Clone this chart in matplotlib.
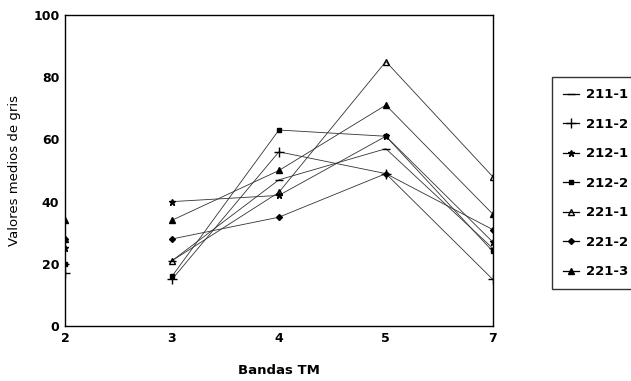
import numpy as np
import matplotlib
matplotlib.use('Agg')
import matplotlib.pyplot as plt

'''
Valores medios de gris por banda TM para cada clase
'''

bandas = ['2', '3', '4', '5', '7']
clases = ['211-1', '211-2', '212-1', '212-2', '221-1', '221-2', '221-3']

v_211_1 = [20, 21, 47, 57, 25]
v_211_2 = [17, 15, 56, 49, 15]
v_212_1 = [25, 40, 42, 61, 27]
v_212_2 = [20, 16, 63, 61, 24]
v_221_1 = [28, 21, 43, 85, 48]
v_221_2 = [28, 28, 35, 49, 31]
v_221_3 = [34, 34, 50, 71, 36]

valores = [v_211_1, v_211_2, v_212_1, v_212_2, v_221_1, v_221_2, v_221_3]
marcadores = ['_', '+', '*', 's', '^', 'D', '^']
tamanos = [6, 7, 5, 3.5, 4, 3, 4.5]
rellenos = ['k', 'k', 'k', 'k', 'none', 'k', 'k']

plt.rcParams['font.family'] = ['DejaVu Sans']

fig = plt.figure(figsize=(6.31, 3.81), dpi=100)
ax = fig.add_axes([0.103, 0.144, 0.678, 0.817])

x = np.arange(len(bandas))
for nombre, vals, m, ms, fc in zip(clases, valores, marcadores, tamanos, rellenos):
    # sin linea entre las bandas 2 y 3, como en la figura
    ax.plot(x[1:], vals[1:], color='#333333', lw=0.6)
    ax.plot(x, vals, linestyle='none', marker=m, ms=ms, color='k',
            mfc=fc, mew=1.0)
    ax.plot([], [], color='k', lw=0.9, marker=m, ms=ms, mfc=fc, mew=1.0,
            label=nombre)

ax.set_xlim(0, 4)
ax.set_ylim(0, 100)
ax.set_xticks(x)
ax.set_xticklabels(bandas)
ax.set_yticks([0, 20, 40, 60, 80, 100])
ax.tick_params(length=0, labelsize=9, pad=4)
for lab in ax.get_xticklabels() + ax.get_yticklabels():
    lab.set_fontweight('bold')
ax.set_xlabel('Bandas TM', fontsize=9.5, fontweight='bold', labelpad=14)
ax.set_ylabel('Valores medios de gris', fontsize=9.5, labelpad=9)
for s in ax.spines.values():
    s.set_linewidth(1.0)

leg = fig.legend(loc='upper left', bbox_to_anchor=(552 / 631, 1 - 77 / 381),
                 frameon=True, fancybox=False, edgecolor='k', fontsize=9.5,
                 handlelength=1.2, handletextpad=0.5, labelspacing=1.25,
                 borderpad=0.85, borderaxespad=0)
leg.get_frame().set_linewidth(1.0)
for t in leg.get_texts():
    t.set_fontweight('bold')

plt.savefig('out.png', dpi=100)
